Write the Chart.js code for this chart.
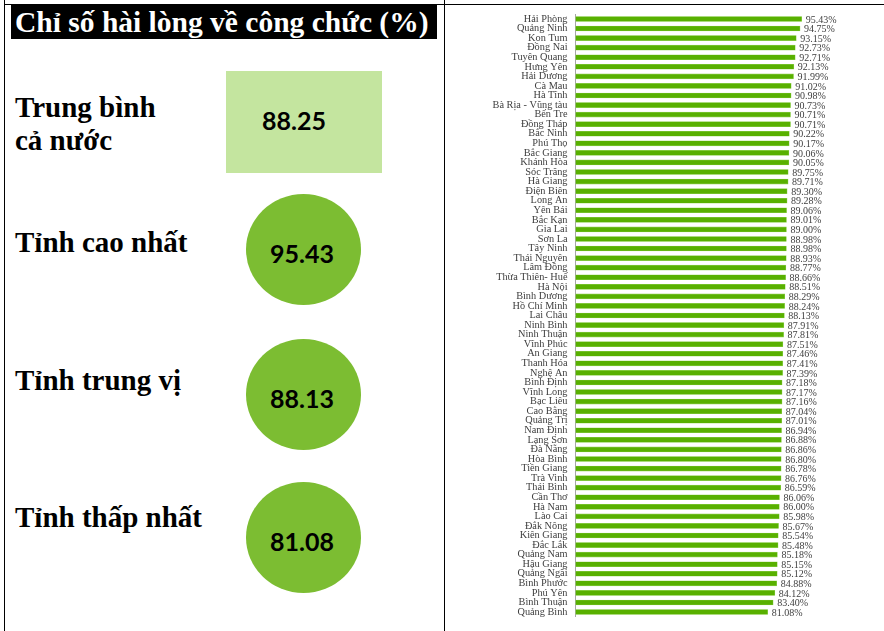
<!DOCTYPE html>
<html lang="vi">
<head>
<meta charset="utf-8">
<title>Chỉ số hài lòng về công chức (%)</title>
<script src="https://cdn.jsdelivr.net/npm/chart.js@4.4.1/dist/chart.umd.min.js"></script>
<style>
  html, body { margin: 0; padding: 0; background: #fff; }
  body {
    width: 884px; height: 631px; position: relative; overflow: hidden;
    font-family: "Liberation Serif", "Times New Roman", serif;
  }
  .rule-h { position: absolute; left: 4px; top: 4px; width: 880px; height: 1px; background: #000; }
  .rule-v { position: absolute; top: 0; width: 1px; height: 631px; background: #000; }
  .title {
    position: absolute; left: 11px; top: 4px; width: 426px; height: 35px;
    background: #000; color: #fff; font-weight: bold; font-size: 29.5px;
    line-height: 35px; white-space: nowrap; box-sizing: border-box; padding-left: 4px;
    overflow: hidden;
  }
  .title span { position: relative; top: 1px; }
  .label {
    position: absolute; left: 15px; font-weight: bold; font-size: 29px;
    line-height: 33px; color: #000; white-space: nowrap;
  }
  .box {
    position: absolute; left: 226px; top: 71px; width: 156px; height: 102px;
    background: #c4e59f;
  }
  .dot {
    position: absolute; width: 115px; height: 111px; border-radius: 50%;
    background: #7cbd32;
  }
  .num {
    position: absolute; font-family: Lato, "Open Sans", sans-serif; font-weight: 700;
    font-size: 25px; color: #000; width: 120px; text-align: center; line-height: 30px;
  }
  #chart { position: absolute; left: 446px; top: 0; }
</style>
</head>
<body>
<div class="rule-h"></div>
<div class="rule-v" style="left:4px"></div>
<div class="rule-v" style="left:444px"></div>

<div class="title"><span>Chỉ số hài lòng về công chức (%)</span></div>

<div class="label" style="top:91px">Trung bình<br>cả nước</div>
<div class="label" style="top:226px">Tỉnh cao nhất</div>
<div class="label" style="top:364px">Tỉnh trung vị</div>
<div class="label" style="top:501px">Tỉnh thấp nhất</div>

<div class="box"></div>
<div class="dot" style="left:246px; top:194px"></div>
<div class="dot" style="left:246px; top:339px"></div>
<div class="dot" style="left:246px; top:482px"></div>
<div class="num" id="n0" style="left:234px; top:105px"></div>
<div class="num" id="n1" style="left:242px; top:238px"></div>
<div class="num" id="n2" style="left:242px; top:383px"></div>
<div class="num" id="n3" style="left:242px; top:526px"></div>

<canvas id="chart" width="438" height="631"></canvas>

<script>
// summary figures shown on the left
const summaryValues = [88.25, 95.43, 88.13, 81.08];

const provinces = [
  'Hải Phòng', 'Quảng Ninh', 'Kon Tum', 'Đồng Nai', 'Tuyên Quang', 'Hưng Yên',
  'Hải Dương', 'Cà Mau', 'Hà Tĩnh', 'Bà Rịa - Vũng tàu', 'Bến Tre', 'Đồng Tháp',
  'Bắc Ninh', 'Phú Thọ', 'Bắc Giang', 'Khánh Hòa', 'Sóc Trăng', 'Hà Giang',
  'Điện Biên', 'Long An', 'Yên Bái', 'Bắc Kạn', 'Gia Lai', 'Sơn La',
  'Tây Ninh', 'Thái Nguyên', 'Lâm Đồng', 'Thừa Thiên- Huế', 'Hà Nội', 'Bình Dương',
  'Hồ Chí Minh', 'Lai Châu', 'Ninh Bình', 'Ninh Thuận', 'Vĩnh Phúc', 'An Giang',
  'Thanh Hóa', 'Nghệ An', 'Bình Định', 'Vĩnh Long', 'Bạc Liêu', 'Cao Bằng',
  'Quảng Trị', 'Nam Định', 'Lạng Sơn', 'Đà Nẵng', 'Hòa Bình', 'Tiền Giang',
  'Trà Vinh', 'Thái Bình', 'Cần Thơ', 'Hà Nam', 'Lào Cai', 'Đắk Nông',
  'Kiên Giang', 'Đắc Lắk', 'Quảng Nam', 'Hậu Giang', 'Quảng Ngãi', 'Bình Phước',
  'Phú Yên', 'Bình Thuận', 'Quảng Bình'
];

const satisfaction = [
  95.43, 94.75, 93.15, 92.73, 92.71, 92.13,
  91.99, 91.02, 90.98, 90.73, 90.71, 90.71,
  90.22, 90.17, 90.06, 90.05, 89.75, 89.71,
  89.30, 89.28, 89.06, 89.01, 89.00, 88.98,
  88.98, 88.93, 88.77, 88.66, 88.51, 88.29,
  88.24, 88.13, 87.91, 87.81, 87.51, 87.46,
  87.41, 87.39, 87.18, 87.17, 87.16, 87.04,
  87.01, 86.94, 86.88, 86.86, 86.80, 86.78,
  86.76, 86.59, 86.06, 86.00, 85.98, 85.67,
  85.54, 85.48, 85.18, 85.15, 85.12, 84.88,
  84.12, 83.40, 81.08
];

summaryValues.forEach((v, i) => {
  document.getElementById('n' + i).textContent = v.toFixed(2);
});

// percent label at the end of each bar
const valueLabels = {
  id: 'valueLabels',
  afterDatasetsDraw(chart) {
    const ctx = chart.ctx;
    const meta = chart.getDatasetMeta(0);
    ctx.save();
    ctx.font = '10px "Liberation Serif"';
    ctx.fillStyle = '#404040';
    ctx.textBaseline = 'middle';
    ctx.textAlign = 'left';
    meta.data.forEach((bar, i) => {
      ctx.fillText(satisfaction[i].toFixed(2) + '%', bar.x + 4, bar.y + 1);
    });
    ctx.restore();
  }
};

new Chart(document.getElementById('chart'), {
  type: 'bar',
  data: {
    labels: provinces,
    datasets: [{
      data: satisfaction,
      backgroundColor: '#58b000',
      borderColor: '#8fd04e',
      borderWidth: 0.6,
      borderSkipped: false,
      barThickness: 5
    }]
  },
  options: {
    indexAxis: 'y',
    responsive: false,
    animation: false,
    layout: { padding: { top: 13, bottom: 10, right: 71.5, left: 0 } },
    plugins: { legend: { display: false }, tooltip: { enabled: false } },
    scales: {
      x: { display: false, min: 0, max: 100 },
      y: {
        afterFit(scale) { scale.width = 129.5; },
        grid: { display: false, drawTicks: false },
        border: { display: true, color: '#a6a6a6', width: 1 },
        ticks: {
          autoSkip: false,
          padding: 8,
          color: '#404040',
          font: { family: 'Liberation Serif', size: 10.3 }
        }
      }
    }
  },
  plugins: [valueLabels]
});
</script>
</body>
</html>
